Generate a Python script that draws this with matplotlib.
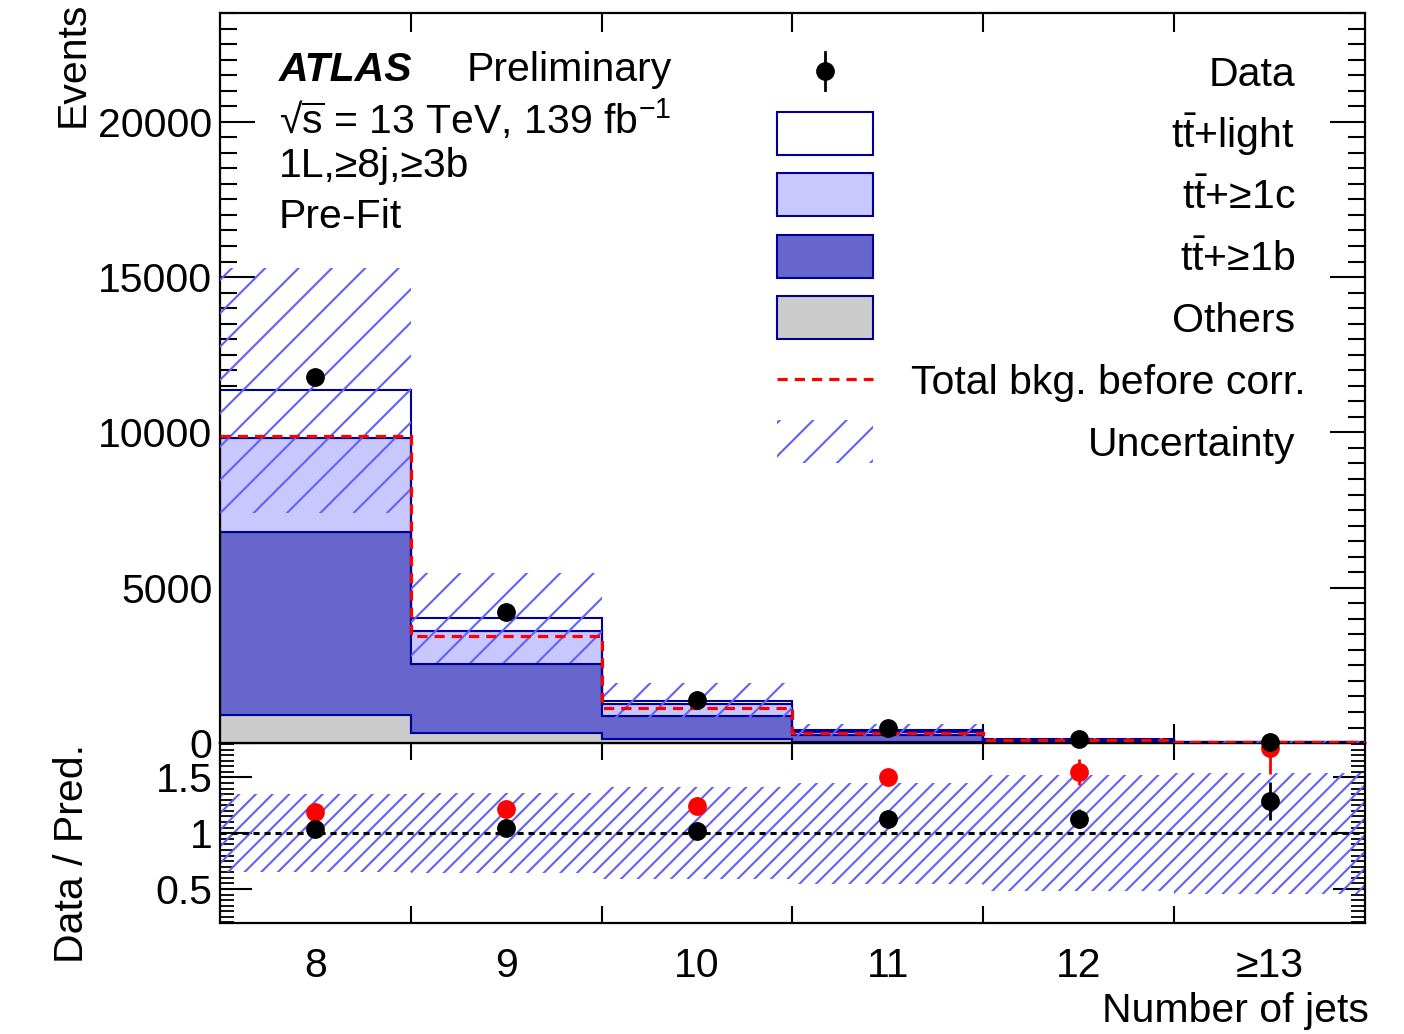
import numpy as np
import matplotlib.pyplot as plt
from matplotlib.patches import Rectangle
from matplotlib.lines import Line2D
from matplotlib.ticker import MultipleLocator

plt.rcParams['font.family'] = ['Liberation Sans', 'DejaVu Sans']
plt.rcParams['mathtext.fontset'] = 'custom'
plt.rcParams['mathtext.rm'] = 'Liberation Sans'
plt.rcParams['mathtext.it'] = 'Liberation Sans:italic'
plt.rcParams['mathtext.bf'] = 'Liberation Sans:bold'
plt.rcParams['hatch.linewidth'] = 1.5

# jet multiplicity bins
labels = ['8', '9', '10', '11', '12', '≥13']
others = [900, 330, 120, 40, 12, 4]
ttb = [5900, 2205, 750, 210, 55, 17]
ttc = [3030, 1085, 385, 110, 30, 9]
ttlight = [1520, 400, 108, 60, 18, 5]
before_corr = [9870, 3460, 1117, 315, 84, 25.5]
unc = [3950, 1450, 560, 190, 60, 19]
data = [11780, 4210, 1385, 475, 130, 45]
data_err = [109, 65, 37, 22, 10, 6]

FS = 29.5
navy = '#000099'
hatch_col = '#6060ff'
col_light = 'white'
col_c = '#c8c8ff'
col_b = '#6666cc'
col_oth = '#cccccc'

centers = np.arange(8, 8 + len(labels))
edges = np.arange(7.5, 8.5 + len(labels))

others = np.array(others, float)
ttb = np.array(ttb, float)
ttc = np.array(ttc, float)
ttlight = np.array(ttlight, float)
before_corr = np.array(before_corr, float)
unc = np.array(unc, float)
data = np.array(data, float)
data_err = np.array(data_err, float)

fig = plt.figure(figsize=(14.04, 10.34), dpi=100)
ax_r = fig.add_axes([0.1567, 0.1074, 0.8155, 0.1741])
ax = fig.add_axes([0.1567, 0.2814, 0.8155, 0.7060])
ax.set_zorder(2)
ax.patch.set_alpha(0)

# stacked backgrounds
base = np.zeros(len(labels))
for vals, col in [(others, col_oth), (ttb, col_b), (ttc, col_c), (ttlight, col_light)]:
    ax.stairs(base + vals, edges, baseline=base.copy(), fill=True,
              facecolor=col, edgecolor=navy, linewidth=1.5, zorder=2)
    base = base + vals
total = base

# uncertainty band
ax.bar(centers, 2 * unc, bottom=total - unc, width=1.0, facecolor='none',
       edgecolor=hatch_col, hatch='/', linewidth=0, zorder=3)

# total before correction
ax.stairs(before_corr, edges, baseline=None, color='red', linewidth=2.3,
          linestyle=(0, (3.2, 2.2)), zorder=4)

ax.errorbar(centers, data, yerr=data_err, fmt='o', color='black', markersize=12.5,
            elinewidth=2, capsize=0, zorder=5, clip_on=False)

ax.set_xlim(edges[0], edges[-1])
ax.set_ylim(0, 23500)
ax.set_xticks(edges[1:-1])
ax.set_xticklabels([])
ax.yaxis.set_major_locator(MultipleLocator(5000))
ax.yaxis.set_minor_locator(MultipleLocator(500))
ax.tick_params(axis='y', which='major', direction='in', length=25, width=1.5,
               labelsize=FS, right=True, pad=5.5)
ax.tick_params(axis='y', which='minor', direction='in', length=12, width=1.5, right=True)
ax.tick_params(axis='x', which='major', direction='in', length=14, width=1.5,
               top=True, bottom=True)
for s in ax.spines.values():
    s.set_linewidth(1.6)

ax.set_ylabel('Events', fontsize=FS, loc='top')
ax.yaxis.set_label_coords(-0.112, 1.015)

# labels
tx = 0.0515
ax.text(tx, 0.9068, 'ATLAS', transform=ax.transAxes, fontsize=FS, fontweight='bold',
        fontstyle='italic', va='baseline')
ax.text(0.2157, 0.9068, 'Preliminary', transform=ax.transAxes, fontsize=FS, va='baseline')
ax.text(tx, 0.8342, r'√$\overline{\mathrm{s}}$ = 13 TeV, 139 fb$^{\mathrm{-1}}$',
        transform=ax.transAxes, fontsize=FS, va='baseline')
ax.text(tx, 0.7753, '1L,≥8j,≥3b', transform=ax.transAxes, fontsize=FS, va='baseline')
ax.text(tx, 0.7055, 'Pre-Fit', transform=ax.transAxes, fontsize=FS, va='baseline')

# legend drawn by hand (right-aligned labels)
row_px = [71, 133, 194, 256, 317, 379, 441]
rows = [(743 - r) / 730 for r in row_px]
bx0, bx1 = 0.4865, 0.5703
bh = 0.0589
txr = 0.9389
leg_text = ['Data', r't$\bar{\mathrm{t}}$+light', r't$\bar{\mathrm{t}}$+≥1c',
            r't$\bar{\mathrm{t}}$+≥1b', 'Others', 'Total bkg. before corr.', 'Uncertainty']
xm = 0.5 * (bx0 + bx1)
ax.add_line(Line2D([xm], [rows[0]], marker='o', markersize=12.5, color='black',
                   transform=ax.transAxes))
ax.add_line(Line2D([xm, xm], [rows[0] - 0.026, rows[0] + 0.026], color='black', lw=2,
                   transform=ax.transAxes))
for i, col in zip([1, 2, 3, 4], [col_light, col_c, col_b, col_oth]):
    ax.add_patch(Rectangle((bx0, rows[i] - bh / 2), bx1 - bx0, bh, facecolor=col,
                           edgecolor=navy, lw=1.5, transform=ax.transAxes))
ax.add_line(Line2D([bx0, bx1], [rows[5], rows[5]], color='red', lw=2.3,
                   linestyle=(0, (3.2, 2.2)), transform=ax.transAxes))
ax.add_patch(Rectangle((bx0, rows[6] - bh / 2), bx1 - bx0, bh, facecolor='none',
                       edgecolor=hatch_col, hatch='/', lw=0, transform=ax.transAxes))
for i, t in enumerate(leg_text):
    xr = txr + (0.009 if i == 5 else 0.0)
    ax.text(xr, rows[i] - 0.0205, t, transform=ax.transAxes, fontsize=FS,
            ha='right', va='baseline')

# ratio panel
rel = unc / total
ax_r.bar(centers, 2 * rel, bottom=1 - rel, width=1.0, facecolor='none',
         edgecolor=hatch_col, hatch='//', linewidth=0, zorder=2)
ax_r.axhline(1.0, color='black', lw=2.2, linestyle=(0, (2, 1.6)), zorder=3)
ax_r.errorbar(centers, data / before_corr, yerr=data_err / before_corr, fmt='o',
              color='red', markersize=12.5, elinewidth=2, capsize=0, zorder=4)
ax_r.errorbar(centers, data / total, yerr=data_err / total, fmt='o', color='black',
              markersize=12.5, elinewidth=2, capsize=0, zorder=5)

ax_r.set_xlim(edges[0], edges[-1])
ax_r.set_ylim(0.195, 1.81)
ax_r.set_xticks(centers)
ax_r.set_xticklabels(labels, fontsize=FS)
ax_r.set_xticks(edges[1:-1], minor=True)
ax_r.tick_params(axis='x', which='major', length=0, pad=17)
ax_r.tick_params(axis='x', which='minor', direction='in', length=12, width=1.5,
                 top=True, bottom=True)
ax_r.set_yticks([0.5, 1.0, 1.5])
ax_r.set_yticklabels(['0.5', '1', '1.5'])
ax_r.yaxis.set_minor_locator(MultipleLocator(0.05))
ax_r.tick_params(axis='y', which='major', direction='in', length=23, width=1.5,
                 labelsize=FS, right=True, pad=5.5)
ax_r.tick_params(axis='y', which='minor', direction='in', length=10, width=1.3, right=True)
for s in ax_r.spines.values():
    s.set_linewidth(1.6)

ax_r.set_ylabel('Data / Pred.', fontsize=FS)
ax_r.yaxis.set_label_coords(-0.1127, 0.386)
ax_r.set_xlabel('Number of jets', fontsize=FS, loc='right')
ax_r.xaxis.set_label_coords(1.003, -0.385)

fig.savefig('out.png', dpi=100)
